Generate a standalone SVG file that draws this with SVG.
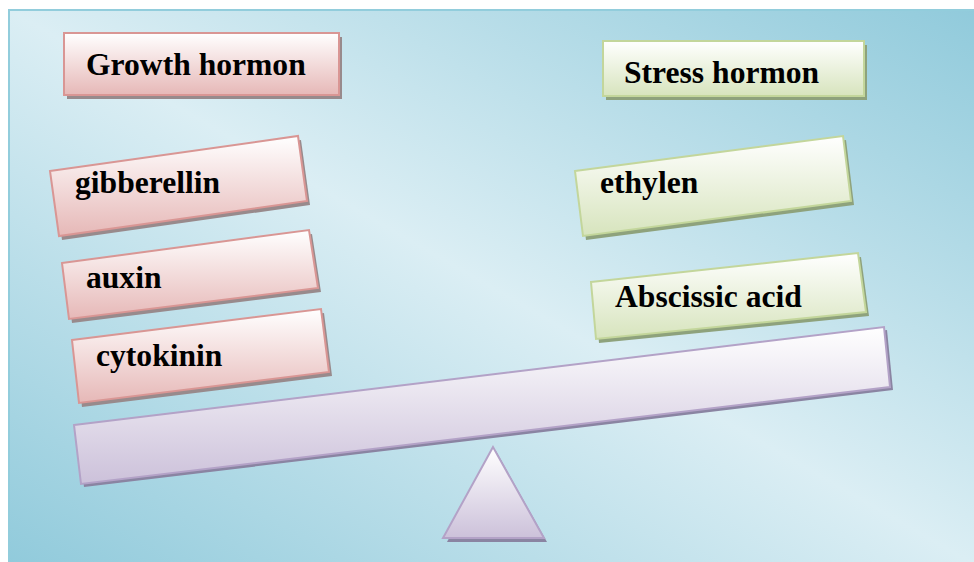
<svg xmlns="http://www.w3.org/2000/svg" width="974" height="562" viewBox="0 0 974 562">
<defs>
<linearGradient id="bg" x1="1" y1="0" x2="0" y2="1">
<stop offset="0" stop-color="#90cadb"/>
<stop offset="0.5" stop-color="#dbeef4"/>
<stop offset="1" stop-color="#90cadb"/>
</linearGradient>
<linearGradient id="pink" x1="0" y1="0" x2="0" y2="1">
<stop offset="0" stop-color="#ffffff"/>
<stop offset="1" stop-color="#e6b8b7"/>
</linearGradient>
<linearGradient id="green" x1="0" y1="0" x2="0" y2="1">
<stop offset="0" stop-color="#ffffff"/>
<stop offset="1" stop-color="#d7e4bd"/>
</linearGradient>
<linearGradient id="purple" x1="0" y1="0" x2="0" y2="1">
<stop offset="0" stop-color="#ffffff"/>
<stop offset="1" stop-color="#ccc1da"/>
</linearGradient>
<style>
.pk{fill:url(#pink);stroke:#d99694;stroke-width:2;stroke-linejoin:miter}
.gr{fill:url(#green);stroke:#c3d69b;stroke-width:2}
.pu{fill:url(#purple);stroke:#b3a2c7;stroke-width:2}
.shp{fill:#988a8c}
.shg{fill:#8ea27c}
.shu{fill:#8a84a2}
.t{font-family:"Liberation Serif","Times New Roman",serif;font-weight:bold;font-size:31.6px;fill:#000}
</style>
</defs>
<rect x="9" y="10" width="975" height="560" fill="url(#bg)" stroke="#92cddc" stroke-width="2"/>

<g id="beam">
<polygon class="shu" points="77,428 887,330 893,390 84,487"/>
<polygon class="pu" points="74,425 884,327 890,387 81,484"/>
</g>
<g id="fulcrum">
<polygon class="shu" points="496,451 447,542 547,542"/>
<polygon class="pu" points="493,447 443,538 544,538"/>
</g>

<g id="growth-hormon">
<rect class="shp" x="67" y="37" width="275" height="62"/>
<rect class="pk" x="64" y="33" width="275" height="62"/>
<text class="t" x="86" y="75">Growth hormon</text>
</g>
<g id="stress-hormon">
<rect class="shg" x="606" y="45" width="261" height="55"/>
<rect class="gr" x="603" y="41" width="261" height="55"/>
<text class="t" x="624" y="83">Stress hormon</text>
</g>

<g id="gibberellin">
<polygon class="shp" points="53,175 301,140 310,205 62,240"/>
<polygon class="pk" points="50,171 298,136 307,201 59,236"/>
<text class="t" x="75" y="193">gibberellin</text>
</g>
<g id="auxin">
<polygon class="shp" points="65,267 312,234 321,292 72,323"/>
<polygon class="pk" points="62,263 309,230 318,288 69,319"/>
<text class="t" x="86" y="288">auxin</text>
</g>
<g id="cytokinin">
<polygon class="shp" points="75,344 324,313 332,376 82,407"/>
<polygon class="pk" points="72,340 321,309 329,372 79,403"/>
<text class="t" x="96" y="366">cytokinin</text>
</g>

<g id="ethylen">
<polygon class="shg" points="578,175 846,140 854,205 586,240"/>
<polygon class="gr" points="575,171 843,136 851,201 583,236"/>
<text class="t" x="600" y="193">ethylen</text>
</g>
<g id="abscissic-acid">
<polygon class="shg" points="594,286 861,257 869,316 599,343"/>
<polygon class="gr" points="591,282 858,253 866,312 596,339"/>
<text class="t" x="615" y="307">Abscissic acid</text>
</g>

<g id="connectors"></g>
</svg>
